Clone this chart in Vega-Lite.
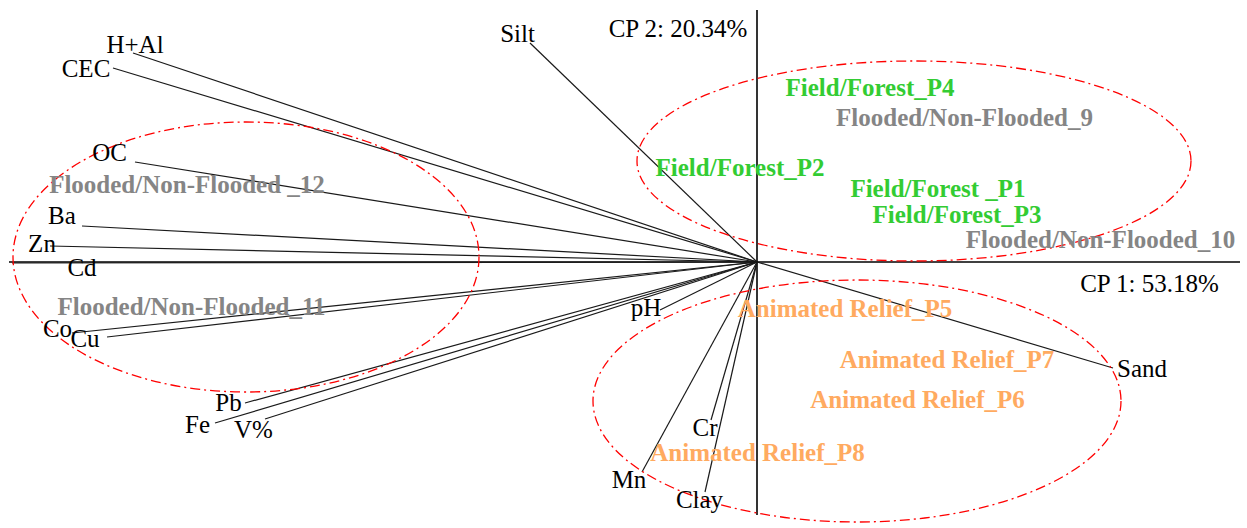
{
  "$schema": "https://vega.github.io/schema/vega-lite/v6.json",
  "width": 1247,
  "height": 528,
  "autosize": {"type": "fit", "contains": "padding"},
  "padding": 0,
  "background": "white",
  "config": {"view": {"stroke": null}, "text": {"font": "Times New Roman"}},
  "datasets": {
    "vectors": [
      {"var": "H+Al", "x": -6.24, "y": 2.09, "lx": -6.22, "ly": 2.17},
      {"var": "CEC", "x": -6.44, "y": 1.94, "lx": -6.71, "ly": 1.93},
      {"var": "Silt", "x": -2.27, "y": 2.19, "lx": -2.395, "ly": 2.28},
      {"var": "OC", "x": -6.22, "y": 1.0, "lx": -6.475, "ly": 1.09},
      {"var": "Ba", "x": -6.75, "y": 0.36, "lx": -6.95, "ly": 0.46},
      {"var": "Zn", "x": -7.07, "y": 0.16, "lx": -7.15, "ly": 0.185},
      {"var": "Cd", "x": -7.45, "y": -0.01, "lx": -6.75, "ly": -0.055},
      {"var": "Co", "x": -6.85, "y": -0.71, "lx": -6.995, "ly": -0.67},
      {"var": "Cu", "x": -6.5, "y": -0.75, "lx": -6.72, "ly": -0.77},
      {"var": "Pb", "x": -5.12, "y": -1.41, "lx": -5.285, "ly": -1.41},
      {"var": "Fe", "x": -5.42, "y": -1.61, "lx": -5.595, "ly": -1.625},
      {"var": "V%", "x": -4.92, "y": -1.57, "lx": -5.035, "ly": -1.68},
      {"var": "pH", "x": -0.97, "y": -0.48, "lx": -1.11, "ly": -0.46},
      {"var": "Mn", "x": -1.15, "y": -2.1, "lx": -1.28, "ly": -2.18},
      {"var": "Clay", "x": -0.52, "y": -2.3, "lx": -0.575, "ly": -2.38},
      {"var": "Cr", "x": -0.46, "y": -1.58, "lx": -0.52, "ly": -1.655},
      {"var": "Sand", "x": 3.56, "y": -1.06, "lx": 3.85, "ly": -1.07}
    ],
    "samples": [
      {"label": "Field/Forest_P4", "group": "Field/Forest", "x": 1.13, "y": 1.745},
      {"label": "Flooded/Non-Flooded_9", "group": "Flooded/Non-Flooded", "x": 2.075, "y": 1.44},
      {"label": "Field/Forest_P2", "group": "Field/Forest", "x": -0.17, "y": 0.945},
      {"label": "Field/Forest _P1", "group": "Field/Forest", "x": 1.81, "y": 0.73},
      {"label": "Field/Forest_P3", "group": "Field/Forest", "x": 2.0, "y": 0.475},
      {"label": "Flooded/Non-Flooded_10", "group": "Flooded/Non-Flooded", "x": 3.435, "y": 0.225},
      {"label": "Flooded/Non-Flooded _12", "group": "Flooded/Non-Flooded", "x": -5.7, "y": 0.775},
      {"label": "Flooded/Non-Flooded_11", "group": "Flooded/Non-Flooded", "x": -5.655, "y": -0.445},
      {"label": "Animated Relief_P5", "group": "Animated Relief", "x": 0.88, "y": -0.47},
      {"label": "Animated Relief_P7", "group": "Animated Relief", "x": 1.9, "y": -0.975},
      {"label": "Animated Relief_P6", "group": "Animated Relief", "x": 1.605, "y": -1.38},
      {"label": "Animated Relief_P8", "group": "Animated Relief", "x": 0.005, "y": -1.905}
    ],
    "axes": [
      {"label": "CP 1: 53.18%", "x": 3.925, "y": -0.22},
      {"label": "CP 2: 20.34%", "x": -0.79, "y": 2.33}
    ],
    "groups": [
      {"group": "Field/Forest", "x": 1.57, "y": 1.01},
      {"group": "Flooded/Non-Flooded", "x": -5.11, "y": 0.05},
      {"group": "Animated Relief", "x": 1.0, "y": -1.39}
    ]
  },
  "layer": [
    {
      "data": {"values": [{}]},
      "mark": {"type": "rule", "color": "#000000", "strokeWidth": 1.6},
      "encoding": {
        "x": {"datum": -7.48, "type": "quantitative", "scale": {"domain": [-7.57, 4.9], "nice": false, "zero": false}, "axis": null},
        "x2": {"datum": 4.83},
        "y": {"datum": 0, "type": "quantitative", "scale": {"domain": [-2.66, 2.62], "nice": false, "zero": false}, "axis": null}
      }
    },
    {
      "data": {"values": [{}]},
      "mark": {"type": "rule", "color": "#000000", "strokeWidth": 1.6},
      "encoding": {
        "x": {"datum": 0, "type": "quantitative", "scale": {"domain": [-7.57, 4.9], "nice": false, "zero": false}, "axis": null},
        "y": {"datum": 2.52, "type": "quantitative", "scale": {"domain": [-2.66, 2.62], "nice": false, "zero": false}, "axis": null},
        "y2": {"datum": -2.53}
      }
    },
    {
      "data": {"name": "vectors"},
      "mark": {"type": "rule", "color": "#1a1a1a", "strokeWidth": 1.2},
      "encoding": {
        "x": {"field": "x", "type": "quantitative", "scale": {"domain": [-7.57, 4.9], "nice": false, "zero": false}, "axis": null},
        "y": {"field": "y", "type": "quantitative", "scale": {"domain": [-2.66, 2.62], "nice": false, "zero": false}, "axis": null},
        "x2": {"datum": 0},
        "y2": {"datum": 0}
      }
    },
    {
      "data": {"name": "groups"},
      "transform": [{"filter": "datum.group === 'Flooded/Non-Flooded'"}],
      "mark": {"type": "point", "shape": "M1 0C1 0.32 0.5523 0.5794 0 0.5794C-0.5523 0.5794 -1 0.32 -1 0C-1 -0.32 -0.5523 -0.5794 0 -0.5794C0.5523 -0.5794 1 -0.32 1 0Z", "size": 217156, "filled": false, "color": "#FF0000", "stroke": "#FF0000", "strokeWidth": 1.3, "strokeDash": [10, 4, 2, 4], "opacity": 1},
      "encoding": {
        "x": {"field": "x", "type": "quantitative", "scale": {"domain": [-7.57, 4.9], "nice": false, "zero": false}, "axis": null},
        "y": {"field": "y", "type": "quantitative", "scale": {"domain": [-2.66, 2.62], "nice": false, "zero": false}, "axis": null}
      }
    },
    {
      "data": {"name": "groups"},
      "transform": [{"filter": "datum.group === 'Field/Forest'"}],
      "mark": {"type": "point", "shape": "M1 0C1 0.1994 0.5523 0.361 0 0.361C-0.5523 0.361 -1 0.1994 -1 0C-1 -0.1994 -0.5523 -0.361 0 -0.361C0.5523 -0.361 1 -0.1994 1 0Z", "size": 306916, "filled": false, "color": "#FF0000", "stroke": "#FF0000", "strokeWidth": 1.3, "strokeDash": [10, 4, 2, 4], "opacity": 1},
      "encoding": {
        "x": {"field": "x", "type": "quantitative", "scale": {"domain": [-7.57, 4.9], "nice": false, "zero": false}, "axis": null},
        "y": {"field": "y", "type": "quantitative", "scale": {"domain": [-2.66, 2.62], "nice": false, "zero": false}, "axis": null}
      }
    },
    {
      "data": {"name": "groups"},
      "transform": [{"filter": "datum.group === 'Animated Relief'"}],
      "mark": {"type": "point", "shape": "M1 0C1 0.2531 0.5523 0.4583 0 0.4583C-0.5523 0.4583 -1 0.2531 -1 0C-1 -0.2531 -0.5523 -0.4583 0 -0.4583C0.5523 -0.4583 1 -0.2531 1 0Z", "size": 278784, "filled": false, "color": "#FF0000", "stroke": "#FF0000", "strokeWidth": 1.3, "strokeDash": [10, 4, 2, 4], "opacity": 1},
      "encoding": {
        "x": {"field": "x", "type": "quantitative", "scale": {"domain": [-7.57, 4.9], "nice": false, "zero": false}, "axis": null},
        "y": {"field": "y", "type": "quantitative", "scale": {"domain": [-2.66, 2.62], "nice": false, "zero": false}, "axis": null}
      }
    },
    {
      "data": {"name": "vectors"},
      "mark": {"type": "text", "font": "Times New Roman", "fontSize": 25, "color": "#000000", "align": "center", "baseline": "middle"},
      "encoding": {
        "x": {"field": "lx", "type": "quantitative", "scale": {"domain": [-7.57, 4.9], "nice": false, "zero": false}, "axis": null},
        "y": {"field": "ly", "type": "quantitative", "scale": {"domain": [-2.66, 2.62], "nice": false, "zero": false}, "axis": null},
        "text": {"field": "var"}
      }
    },
    {
      "data": {"name": "axes"},
      "mark": {"type": "text", "font": "Times New Roman", "fontSize": 25, "color": "#000000", "align": "center", "baseline": "middle"},
      "encoding": {
        "x": {"field": "x", "type": "quantitative", "scale": {"domain": [-7.57, 4.9], "nice": false, "zero": false}, "axis": null},
        "y": {"field": "y", "type": "quantitative", "scale": {"domain": [-2.66, 2.62], "nice": false, "zero": false}, "axis": null},
        "text": {"field": "label"}
      }
    },
    {
      "data": {"name": "samples"},
      "mark": {"type": "text", "font": "Times New Roman", "fontSize": 25, "fontWeight": "bold", "align": "center", "baseline": "middle"},
      "encoding": {
        "x": {"field": "x", "type": "quantitative", "scale": {"domain": [-7.57, 4.9], "nice": false, "zero": false}, "axis": null},
        "y": {"field": "y", "type": "quantitative", "scale": {"domain": [-2.66, 2.62], "nice": false, "zero": false}, "axis": null},
        "text": {"field": "label"},
        "color": {"field": "group", "type": "nominal", "scale": {"domain": ["Field/Forest", "Flooded/Non-Flooded", "Animated Relief"], "range": ["#33CC33", "#858585", "#FFAA60"]}, "legend": null}
      }
    }
  ]
}
